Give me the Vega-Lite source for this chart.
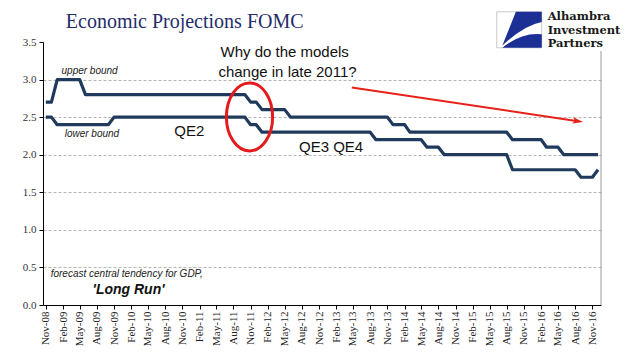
{
  "$schema": "https://vega.github.io/schema/vega-lite/v6.json",
  "width": 558,
  "height": 263,
  "autosize": {"type": "none"},
  "padding": {"left": 43, "top": 42, "right": 40, "bottom": 53},
  "background": "white",
  "config": {"view": {"stroke": null}},
  "encoding": {
    "x": {
      "field": "month", "type": "temporal",
      "scale": {"domain": [{"year": 2008, "month": "oct", "date": 17}, {"year": 2016, "month": "dec", "date": 17}]},
      "axis": {
        "title": null, "grid": false, "format": "%b-%y", "labelAngle": -90,
        "labelFont": "Liberation Serif", "labelFontSize": 11, "labelColor": "#222",
        "tickColor": "#000", "tickSize": 4, "domainColor": "#000", "labelPadding": 2, "labelOverlap": false,
        "values": [
          {"year": 2008, "month": "nov", "date": 1},
          {"year": 2009, "month": "feb", "date": 1}, {"year": 2009, "month": "may", "date": 1}, {"year": 2009, "month": "aug", "date": 1}, {"year": 2009, "month": "nov", "date": 1},
          {"year": 2010, "month": "feb", "date": 1}, {"year": 2010, "month": "may", "date": 1}, {"year": 2010, "month": "aug", "date": 1}, {"year": 2010, "month": "nov", "date": 1},
          {"year": 2011, "month": "feb", "date": 1}, {"year": 2011, "month": "may", "date": 1}, {"year": 2011, "month": "aug", "date": 1}, {"year": 2011, "month": "nov", "date": 1},
          {"year": 2012, "month": "feb", "date": 1}, {"year": 2012, "month": "may", "date": 1}, {"year": 2012, "month": "aug", "date": 1}, {"year": 2012, "month": "nov", "date": 1},
          {"year": 2013, "month": "feb", "date": 1}, {"year": 2013, "month": "may", "date": 1}, {"year": 2013, "month": "aug", "date": 1}, {"year": 2013, "month": "nov", "date": 1},
          {"year": 2014, "month": "feb", "date": 1}, {"year": 2014, "month": "may", "date": 1}, {"year": 2014, "month": "aug", "date": 1}, {"year": 2014, "month": "nov", "date": 1},
          {"year": 2015, "month": "feb", "date": 1}, {"year": 2015, "month": "may", "date": 1}, {"year": 2015, "month": "aug", "date": 1}, {"year": 2015, "month": "nov", "date": 1},
          {"year": 2016, "month": "feb", "date": 1}, {"year": 2016, "month": "may", "date": 1}, {"year": 2016, "month": "aug", "date": 1}, {"year": 2016, "month": "nov", "date": 1}
        ]
      }
    },
    "y": {
      "field": "value", "type": "quantitative",
      "scale": {"domain": [0, 3.5]},
      "axis": {
        "title": null, "values": [0, 0.5, 1, 1.5, 2, 2.5, 3, 3.5], "format": ".1f",
        "labelFont": "Liberation Serif", "labelFontSize": 11, "labelColor": "#333", "labelPadding": 3,
        "tickColor": "#000", "tickSize": 4, "domainColor": "#000",
        "grid": true, "gridDash": [3, 2], "gridWidth": 1,
        "gridColor": {"condition": {"test": "datum.value >= 3.5 || datum.value <= 0", "value": "transparent"}, "value": "#b5b5b5"}
      }
    }
  },
  "layer": [
    {
      "data": {"values": [{"month": "2016/12/17", "value": 0, "value2": 3.38}]},
      "mark": {"type": "rule", "color": "#9a9a9a", "strokeWidth": 1},
      "encoding": {"y2": {"field": "value2"}}
    },
    {
      "data": {"values": [
        {"month": "2008/11/01", "upper": 2.7, "lower": 2.5},
        {"month": "2008/12/01", "upper": 2.7, "lower": 2.5},
        {"month": "2009/01/01", "upper": 3.0, "lower": 2.4},
        {"month": "2009/02/01", "upper": 3.0, "lower": 2.4},
        {"month": "2009/03/01", "upper": 3.0, "lower": 2.4},
        {"month": "2009/04/01", "upper": 3.0, "lower": 2.4},
        {"month": "2009/05/01", "upper": 3.0, "lower": 2.4},
        {"month": "2009/06/01", "upper": 2.8, "lower": 2.4},
        {"month": "2009/07/01", "upper": 2.8, "lower": 2.4},
        {"month": "2009/08/01", "upper": 2.8, "lower": 2.4},
        {"month": "2009/09/01", "upper": 2.8, "lower": 2.4},
        {"month": "2009/10/01", "upper": 2.8, "lower": 2.4},
        {"month": "2009/11/01", "upper": 2.8, "lower": 2.5},
        {"month": "2009/12/01", "upper": 2.8, "lower": 2.5},
        {"month": "2010/01/01", "upper": 2.8, "lower": 2.5},
        {"month": "2010/02/01", "upper": 2.8, "lower": 2.5},
        {"month": "2010/03/01", "upper": 2.8, "lower": 2.5},
        {"month": "2010/04/01", "upper": 2.8, "lower": 2.5},
        {"month": "2010/05/01", "upper": 2.8, "lower": 2.5},
        {"month": "2010/06/01", "upper": 2.8, "lower": 2.5},
        {"month": "2010/07/01", "upper": 2.8, "lower": 2.5},
        {"month": "2010/08/01", "upper": 2.8, "lower": 2.5},
        {"month": "2010/09/01", "upper": 2.8, "lower": 2.5},
        {"month": "2010/10/01", "upper": 2.8, "lower": 2.5},
        {"month": "2010/11/01", "upper": 2.8, "lower": 2.5},
        {"month": "2010/12/01", "upper": 2.8, "lower": 2.5},
        {"month": "2011/01/01", "upper": 2.8, "lower": 2.5},
        {"month": "2011/02/01", "upper": 2.8, "lower": 2.5},
        {"month": "2011/03/01", "upper": 2.8, "lower": 2.5},
        {"month": "2011/04/01", "upper": 2.8, "lower": 2.5},
        {"month": "2011/05/01", "upper": 2.8, "lower": 2.5},
        {"month": "2011/06/01", "upper": 2.8, "lower": 2.5},
        {"month": "2011/07/01", "upper": 2.8, "lower": 2.5},
        {"month": "2011/08/01", "upper": 2.8, "lower": 2.5},
        {"month": "2011/09/01", "upper": 2.8, "lower": 2.5},
        {"month": "2011/10/01", "upper": 2.8, "lower": 2.5},
        {"month": "2011/11/01", "upper": 2.7, "lower": 2.4},
        {"month": "2011/12/01", "upper": 2.7, "lower": 2.4},
        {"month": "2012/01/01", "upper": 2.6, "lower": 2.3},
        {"month": "2012/02/01", "upper": 2.6, "lower": 2.3},
        {"month": "2012/03/01", "upper": 2.6, "lower": 2.3},
        {"month": "2012/04/01", "upper": 2.6, "lower": 2.3},
        {"month": "2012/05/01", "upper": 2.6, "lower": 2.3},
        {"month": "2012/06/01", "upper": 2.5, "lower": 2.3},
        {"month": "2012/07/01", "upper": 2.5, "lower": 2.3},
        {"month": "2012/08/01", "upper": 2.5, "lower": 2.3},
        {"month": "2012/09/01", "upper": 2.5, "lower": 2.3},
        {"month": "2012/10/01", "upper": 2.5, "lower": 2.3},
        {"month": "2012/11/01", "upper": 2.5, "lower": 2.3},
        {"month": "2012/12/01", "upper": 2.5, "lower": 2.3},
        {"month": "2013/01/01", "upper": 2.5, "lower": 2.3},
        {"month": "2013/02/01", "upper": 2.5, "lower": 2.3},
        {"month": "2013/03/01", "upper": 2.5, "lower": 2.3},
        {"month": "2013/04/01", "upper": 2.5, "lower": 2.3},
        {"month": "2013/05/01", "upper": 2.5, "lower": 2.3},
        {"month": "2013/06/01", "upper": 2.5, "lower": 2.3},
        {"month": "2013/07/01", "upper": 2.5, "lower": 2.3},
        {"month": "2013/08/01", "upper": 2.5, "lower": 2.3},
        {"month": "2013/09/01", "upper": 2.5, "lower": 2.2},
        {"month": "2013/10/01", "upper": 2.5, "lower": 2.2},
        {"month": "2013/11/01", "upper": 2.5, "lower": 2.2},
        {"month": "2013/12/01", "upper": 2.4, "lower": 2.2},
        {"month": "2014/01/01", "upper": 2.4, "lower": 2.2},
        {"month": "2014/02/01", "upper": 2.4, "lower": 2.2},
        {"month": "2014/03/01", "upper": 2.3, "lower": 2.2},
        {"month": "2014/04/01", "upper": 2.3, "lower": 2.2},
        {"month": "2014/05/01", "upper": 2.3, "lower": 2.2},
        {"month": "2014/06/01", "upper": 2.3, "lower": 2.1},
        {"month": "2014/07/01", "upper": 2.3, "lower": 2.1},
        {"month": "2014/08/01", "upper": 2.3, "lower": 2.1},
        {"month": "2014/09/01", "upper": 2.3, "lower": 2.0},
        {"month": "2014/10/01", "upper": 2.3, "lower": 2.0},
        {"month": "2014/11/01", "upper": 2.3, "lower": 2.0},
        {"month": "2014/12/01", "upper": 2.3, "lower": 2.0},
        {"month": "2015/01/01", "upper": 2.3, "lower": 2.0},
        {"month": "2015/02/01", "upper": 2.3, "lower": 2.0},
        {"month": "2015/03/01", "upper": 2.3, "lower": 2.0},
        {"month": "2015/04/01", "upper": 2.3, "lower": 2.0},
        {"month": "2015/05/01", "upper": 2.3, "lower": 2.0},
        {"month": "2015/06/01", "upper": 2.3, "lower": 2.0},
        {"month": "2015/07/01", "upper": 2.3, "lower": 2.0},
        {"month": "2015/08/01", "upper": 2.3, "lower": 2.0},
        {"month": "2015/09/01", "upper": 2.2, "lower": 1.8},
        {"month": "2015/10/01", "upper": 2.2, "lower": 1.8},
        {"month": "2015/11/01", "upper": 2.2, "lower": 1.8},
        {"month": "2015/12/01", "upper": 2.2, "lower": 1.8},
        {"month": "2016/01/01", "upper": 2.2, "lower": 1.8},
        {"month": "2016/02/01", "upper": 2.2, "lower": 1.8},
        {"month": "2016/03/01", "upper": 2.1, "lower": 1.8},
        {"month": "2016/04/01", "upper": 2.1, "lower": 1.8},
        {"month": "2016/05/01", "upper": 2.1, "lower": 1.8},
        {"month": "2016/06/01", "upper": 2.0, "lower": 1.8},
        {"month": "2016/07/01", "upper": 2.0, "lower": 1.8},
        {"month": "2016/08/01", "upper": 2.0, "lower": 1.8},
        {"month": "2016/09/01", "upper": 2.0, "lower": 1.7},
        {"month": "2016/10/01", "upper": 2.0, "lower": 1.7},
        {"month": "2016/11/01", "upper": 2.0, "lower": 1.7},
        {"month": "2016/12/01", "upper": 2.0, "lower": 1.8}
      ]},
      "transform": [{"fold": ["upper", "lower"], "as": ["bound", "value"]}],
      "mark": {"type": "line", "strokeWidth": 3.2, "color": "#1F3A5C", "strokeJoin": "round"},
      "encoding": {"detail": {"field": "bound", "type": "nominal"}}
    },
    {
      "data": {"values": [{"month": "2011/10/26", "value": 2.503}]},
      "mark": {"type": "point", "shape": "M0,-1 A0.68,1 0 1,1 0,1 A0.68,1 0 1,1 0,-1 Z", "size": 4624, "filled": false, "stroke": "#E41A1C", "strokeWidth": 3, "opacity": 1}
    },
    {
      "data": {"values": [{"month": "2013/04/25", "value": 2.895, "month2": "2016/08/16", "value2": 2.446}]},
      "mark": {"type": "rule", "color": "#E8201A", "strokeWidth": 2},
      "encoding": {"x2": {"field": "month2"}, "y2": {"field": "value2"}}
    },
    {
      "data": {"values": [{"month": "2016/08/16", "value": 2.446}]},
      "mark": {"type": "point", "shape": "M-1,-0.6 L1,0 L-1,0.6 L-0.6,0 Z", "size": 110, "filled": true, "color": "#E8201A", "opacity": 1, "angle": 8.6}
    },
    {
      "data": {"values": [{"month": "2009/02/16", "value": 3.688, "label": "Economic Projections FOMC"}]},
      "mark": {"type": "text", "align": "left", "baseline": "alphabetic", "font": "Liberation Serif", "fontSize": 20, "color": "#1F2D6B"},
      "encoding": {"text": {"field": "label"}}
    },
    {
      "data": {"values": [{"month": "2009/01/24", "value": 3.115, "label": "upper bound"}, {"month": "2009/02/10", "value": 2.277, "label": "lower bound"}, {"month": "2008/11/27", "value": 0.41, "label": "forecast central tendency for GDP,"}]},
      "mark": {"type": "text", "align": "left", "baseline": "middle", "font": "Liberation Sans", "fontSize": 10, "fontStyle": "italic", "color": "#222"},
      "encoding": {"text": {"field": "label"}}
    },
    {
      "data": {"values": [{"month": "2009/07/09", "value": 0.2, "label": "'Long Run'"}]},
      "mark": {"type": "text", "align": "left", "baseline": "middle", "font": "Liberation Sans", "fontSize": 14, "fontStyle": "italic", "fontWeight": "bold", "color": "#111"},
      "encoding": {"text": {"field": "label"}}
    },
    {
      "data": {"values": [{"month": "2010/12/08", "value": 2.32, "label": "QE2"}, {"month": "2013/01/04", "value": 2.10, "label": "QE3 QE4"}, {"month": "2012/05/01", "value": 3.362, "label": "Why do the models"}, {"month": "2012/05/16", "value": 3.10, "label": "change in late 2011?"}]},
      "mark": {"type": "text", "align": "center", "baseline": "middle", "font": "Liberation Sans", "fontSize": 15, "color": "#111"},
      "encoding": {"text": {"field": "label"}}
    },
    {
      "data": {"values": [{"month": "2015/10/07", "value": 3.662}]},
      "mark": {"type": "point", "shape": "M-1,-0.8 L1,-0.8 L1,0.8 L-1,0.8 Z", "size": 2025, "filled": true, "fill": "white", "stroke": "#c8c8c8", "strokeWidth": 1, "opacity": 1}
    },
    {
      "data": {"values": [{"month": "2015/10/07", "value": 3.662}]},
      "mark": {"type": "point", "shape": "M-0.15,-0.8 L1,-0.8 L1,-0.35 Q0.2,-0.2 -0.75,0.7 Z M-0.75,0.8 Q0.1,0.1 1,0.2 L1,0.8 Z", "size": 2025, "filled": true, "color": "#1B2F94", "opacity": 1}
    },
    {
      "data": {"values": [{"month": "2016/03/07", "value": 3.789, "label": "Alhambra"}, {"month": "2016/03/07", "value": 3.609, "label": "Investment"}, {"month": "2016/03/07", "value": 3.429, "label": "Partners"}]},
      "mark": {"type": "text", "align": "left", "baseline": "alphabetic", "font": "DejaVu Serif", "fontSize": 11.5, "fontWeight": "bold", "color": "#1a1a1a"},
      "encoding": {"text": {"field": "label"}}
    }
  ]
}
